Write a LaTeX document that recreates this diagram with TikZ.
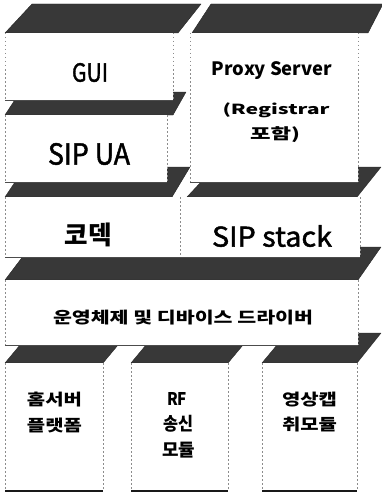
\documentclass[tikz,border=0pt]{standalone}
\usepackage{fontspec}
\setmainfont{Noto Sans CJK KR}
\newfontfamily\medfont[FakeBold=1.6]{Noto Sans CJK KR}
\usepackage{graphicx}
\newcommand\layerbox[5][bottomline]{%
  \fill[white] (#2,#3) rectangle (#4,#5);
  \draw[side] (#2,#3) -- (#2,#5) (#4,#3) -- (#4,#5);
  \draw[#1] (#2,#5) -- (#4,#5);}
\begin{document}
\begin{tikzpicture}[x=1pt,y=-1pt,
  slab/.style={fill=black!78, draw=black!85, line width=0.4pt, line join=round},
  side/.style={draw=black!45, line width=0.6pt, dash pattern=on 1.5pt off 2.5pt},
  bottomline/.style={draw=black!70, line width=0.5pt},
  basebottom/.style={draw=black!90, line width=1.3pt},
  txt/.style={inner sep=0pt, font=\bfseries},
  ltxt/.style={inner sep=0pt, font=\medfont}]
\useasboundingbox (0,0) rectangle (382,495);
% ---- slabs (top faces) ----
\filldraw[slab] (5,33) -- (178,33) -- (201,4) -- (32,4) -- cycle;
\filldraw[slab] (192,33) -- (368,33) -- (383,4) -- (211,4) -- cycle;
\filldraw[slab] (5,115) -- (173,115) -- (186,92) -- (20,92) -- cycle;
\filldraw[slab] (5,197) -- (172,197) -- (190,167) -- (25,167) -- cycle;
\filldraw[slab] (187,197) -- (357,197) -- (381,167) -- (215,167) -- cycle;
\filldraw[slab] (5,280) -- (358,280) -- (381,247) -- (30,247) -- cycle;
\filldraw[slab] (5,363) -- (103,363) -- (128,333) -- (30,333) -- cycle;
\filldraw[slab] (131,363) -- (228,363) -- (253,333) -- (156,333) -- cycle;
\filldraw[slab] (262,363) -- (357,363) -- (381,333) -- (287,333) -- cycle;
% ---- boxes (front faces) ----
\layerbox{5}{33}{173}{100}
\layerbox{5}{115}{167}{182}
\layerbox{190}{33}{358}{182}
\layerbox{5}{197}{180}{257}
\layerbox{180}{197}{360}{257}
\layerbox{5}{280}{358}{345}
\layerbox[basebottom]{5}{363}{103}{491}
\layerbox[basebottom]{131}{363}{228}{491}
\layerbox[basebottom]{262}{363}{357}{491}
% ---- texts ----
\node[ltxt] (gui) at (90,72.5) {\resizebox*{36pt}{19pt}{GUI}};
\node[ltxt] (sipua) at (89,154) {\resizebox*{82pt}{22pt}{SIP UA}};
\node[txt] (proxy) at (272,71) {\resizebox*{120pt}{18pt}{Proxy Server}};
\node[txt] (reg) at (276,110.5) {\resizebox*{107pt}{15pt}{(Registrar}};
\node[txt] (incl) at (275,135) {\resizebox*{50pt}{16pt}{포함)}};
\node[txt] (codec) at (88.5,235) {\resizebox*{47pt}{24pt}{코덱}};
\node[ltxt] (stack) at (272,236) {\resizebox*{120pt}{22pt}{SIP stack}};
\node[txt] (os) at (183,317.5) {\resizebox*{260pt}{15pt}{운영체제 및 디바이스 드라이버}};
\node[txt] (home1) at (54.5,399.5) {\resizebox*{55pt}{15pt}{홈서버}};
\node[txt] (home2) at (54.5,425.5) {\resizebox*{55pt}{15pt}{플랫폼}};
\node[txt] (rf1) at (177,398.5) {\resizebox*{20pt}{13pt}{RF}};
\node[txt] (rf2) at (178,423.5) {\resizebox*{30pt}{17pt}{송신}};
\node[txt] (rf3) at (178.5,450) {\resizebox*{33pt}{16pt}{모듈}};
\node[txt] (cam1) at (309.5,399.5) {\resizebox*{55pt}{15pt}{영상캡}};
\node[txt] (cam2) at (309.5,424.5) {\resizebox*{55pt}{15pt}{취모듈}};
\end{tikzpicture}
\end{document}
